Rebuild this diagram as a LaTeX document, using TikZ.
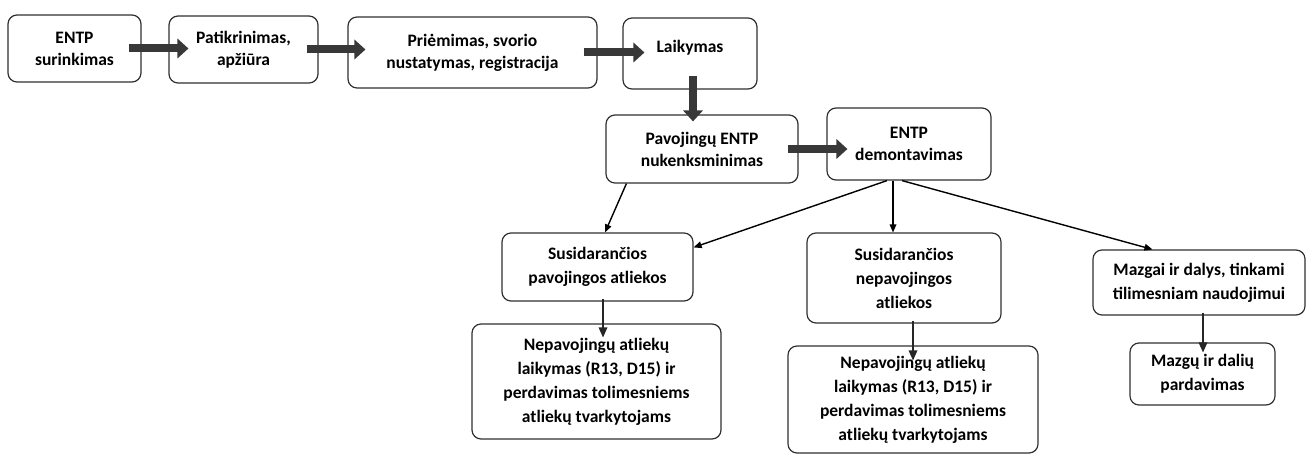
\documentclass[tikz,border=0pt]{standalone}
\usepackage{fontspec}
\setmainfont{Carlito}
\usetikzlibrary{shapes.geometric}

\definecolor{boxline}{HTML}{303030}
\definecolor{arrowfill}{HTML}{383838}

\tikzset{
  stagebox/.style={draw=boxline,line width=1.2pt,rounded corners=9pt,align=center,inner sep=0pt,
    font=\bfseries\fontsize{17.5}{22}\selectfont},
  wastebox/.style={stagebox,font=\bfseries\fontsize{17.5}{24}\selectfont},
  boxsize/.style 2 args={minimum width=#1pt,minimum height=#2pt},
  tiphead/.style 2 args={isosceles triangle,isosceles triangle stretches,draw=none,inner sep=0pt,
    outer sep=0pt,minimum height=#1pt,minimum width=#2pt,pos=1,sloped,allow upside down,anchor=apex},
  blockarrow/.style={draw=arrowfill,line width=8pt,shorten >=10pt},
  blockhead/.style={tiphead={11}{20},fill=arrowfill},
  flowarrow/.style={draw=black,line width=1.4pt,shorten >=7pt},
  flowhead/.style={tiphead={8}{7},fill=black},
  downarrow/.style={draw=black!85,line width=2.2pt,shorten >=9pt},
  downhead/.style={tiphead={10}{9},fill=black!85}
}

\begin{document}
\begin{tikzpicture}[x=1pt,y=1pt]

  \useasboundingbox (0,0) rectangle (1308,-457);

  \node [stagebox,boxsize={133}{67}] (collect) at (74.5,-48.5) {ENTP\\surinkimas};
  \node [stagebox,boxsize={149}{67}] (inspect) at (243.5,-49.5) {Patikrinimas,\\apžiūra};
  \node [stagebox,boxsize={249}{71}] (accept) at (472.5,-52.5) {Priėmimas, svorio\\nustatymas, registracija};
  \node [stagebox,boxsize={134}{71},text depth=14pt] (store) at (690,-53.5) {Laikymas};

  \node [stagebox,boxsize={192}{68}] (neutral) at (702,-149) {Pavojingų ENTP\\nukenksminimas};
  \node [stagebox,boxsize={164}{72}] (dismantle) at (909,-144) {ENTP\\demontavimas};

  \node [wastebox,boxsize={191}{68}] (hazard) at (597.5,-267) {Susidarančios\\pavojingos atliekos};
  \node [wastebox,boxsize={249}{115}] (hazardout) at (596.5,-381.5) {Nepavojingų atliekų\\laikymas (R13, D15) ir\\perdavimas tolimesniems\\atliekų tvarkytojams};

  \node [wastebox,boxsize={194}{90}] (safe) at (904,-278) {Susidarančios\\nepavojingos\\atliekos};
  \node [wastebox,boxsize={250}{107}] (safeout) at (913,-399.5) {Nepavojingų atliekų\\laikymas (R13, D15) ir\\perdavimas tolimesniems\\atliekų tvarkytojams};

  \node [wastebox,boxsize={212}{65}] (parts) at (1199,-282.5) {Mazgai ir dalys, tinkami\\tilimesniam naudojimui};
  \node [wastebox,boxsize={145}{62}] (sale) at (1202.5,-374) {Mazgų ir dalių\\pardavimas};

  \path [blockarrow]
    ([xshift=-13pt]collect.east) edge node [blockhead] {} ([xshift=20pt]collect.east -| inspect.west)
    ([xshift=-12pt]inspect.east) edge node [blockhead] {} ([xshift=18pt]inspect.east -| accept.west)
    ([xshift=-14pt]accept.east) edge node [blockhead] {} ([xshift=22pt]accept.east -| store.west)
    ([xshift=-11pt]neutral.east) edge node [blockhead] {} ([xshift=21pt]neutral.east -| dismantle.west)
    ([xshift=3pt,yshift=14pt]store.south) edge node [blockhead] {} ([xshift=3pt,yshift=-7pt]store.south |- neutral.north);

  \path [flowarrow]
    ([xshift=21pt]neutral.south west) edge node [flowhead] {} ([xshift=7.5pt]hazard.north)
    ([xshift=-22pt]dismantle.south) edge node [flowhead] {} ([yshift=-15pt]hazard.north east)
    ([xshift=-16pt]dismantle.south) edge node [flowhead] {} ([xshift=-16pt]dismantle.south |- safe.north)
    ([xshift=-7pt]dismantle.south) edge node [flowhead] {} ([xshift=60pt]parts.north west);

  \path [downarrow]
    ([xshift=5.5pt,yshift=3pt]hazard.south) edge node [downhead] {} ([xshift=5.5pt,yshift=-14pt]hazard.south |- hazardout.north)
    ([xshift=9pt,yshift=3pt]safe.south) edge node [downhead] {} ([xshift=9pt,yshift=-15pt]safe.south |- safeout.north)
    ([xshift=4pt,yshift=3pt]parts.south) edge node [downhead] {} ([xshift=4pt,yshift=-10pt]parts.south |- sale.north);

\end{tikzpicture}
\end{document}
